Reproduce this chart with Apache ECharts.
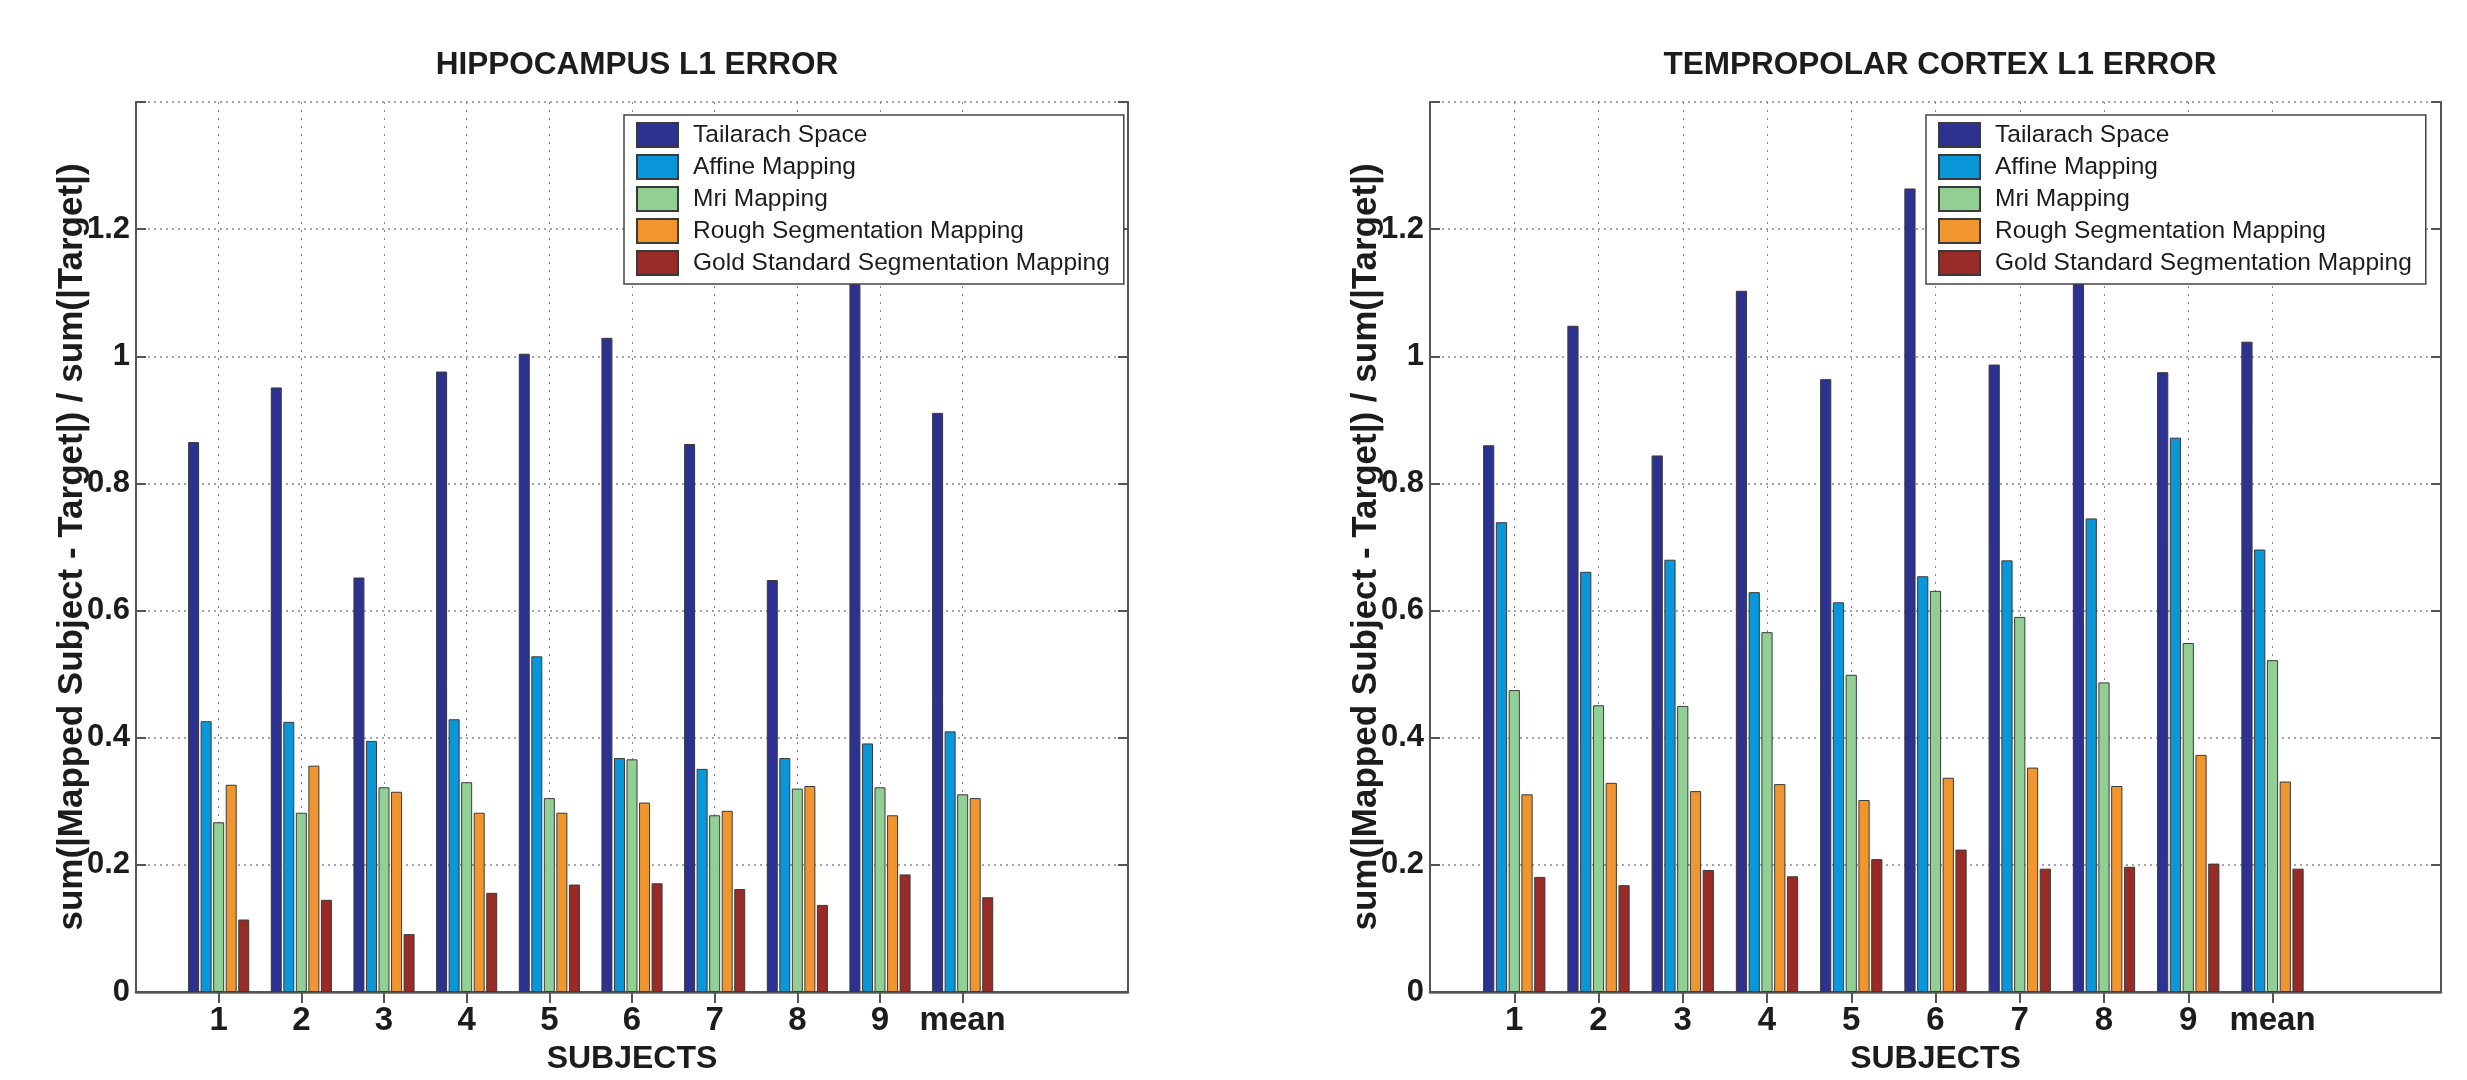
<!DOCTYPE html>
<html>
<head>
<meta charset="utf-8">
<title>L1 error</title>
<script src="https://cdn.jsdelivr.net/npm/echarts@6/dist/echarts.min.js"></script>
<style>
  html,body{margin:0;padding:0;background:#fff}
  #chart{width:2467px;height:1080px}
</style>
</head>
<body>
<div id="chart"></div>
<script>
// categories on the x axis (blank slots pad the axis out to 0..12 like the matlab figure)
const subjects = ['', '1', '2', '3', '4', '5', '6', '7', '8', '9', 'mean', '', ''];
const methodNames = ['Tailarach Space', 'Affine Mapping', 'Mri Mapping', 'Rough Segmentation Mapping', 'Gold Standard Segmentation Mapping'];
const methodColors = ['#2d3190', '#0a97d9', '#92cf95', '#f1952f', '#982b25'];
const yTicks = [0, 0.2, 0.4, 0.6, 0.8, 1, 1.2];

// hippocampus, subjects 1..9 + mean
const hippoTailarach = [0.865, 0.951, 0.652, 0.976, 1.004, 1.029, 0.862, 0.648, 1.21, 0.911];
const hippoAffine    = [0.426, 0.425, 0.395, 0.429, 0.528, 0.368, 0.351, 0.368, 0.391, 0.410];
const hippoMri       = [0.267, 0.282, 0.322, 0.330, 0.305, 0.366, 0.278, 0.320, 0.322, 0.311];
const hippoRough     = [0.326, 0.356, 0.315, 0.282, 0.282, 0.298, 0.285, 0.324, 0.278, 0.305];
const hippoGold      = [0.114, 0.145, 0.091, 0.156, 0.169, 0.171, 0.162, 0.137, 0.185, 0.149];

// tempropolar cortex, subjects 1..9 + mean
const tempTailarach = [0.860, 1.048, 0.844, 1.103, 0.964, 1.264, 0.987, 1.162, 0.975, 1.023];
const tempAffine    = [0.739, 0.661, 0.680, 0.629, 0.613, 0.654, 0.679, 0.745, 0.872, 0.696];
const tempMri       = [0.475, 0.451, 0.450, 0.566, 0.499, 0.631, 0.590, 0.487, 0.549, 0.522];
const tempRough     = [0.311, 0.329, 0.316, 0.327, 0.302, 0.337, 0.353, 0.324, 0.373, 0.331];
const tempGold      = [0.181, 0.168, 0.192, 0.182, 0.209, 0.224, 0.194, 0.197, 0.202, 0.194];

(function(){
  const FONT = '"Liberation Sans", Arial, Helvetica, sans-serif';
  const INK = '#1c1c1c';
  const BOX = '#555';

  // slot 0 is empty, 1..10 hold the values, 11..12 empty
  const pad = (vals)=>[null].concat(vals, [null, null]);
  const onTick = (i)=>i>=1 && i<=10;

  const panels = [
    {title:'HIPPOCAMPUS L1 ERROR', left:136, width:992, center:632, legendLeft:624,
      data:[hippoTailarach, hippoAffine, hippoMri, hippoRough, hippoGold]},
    {title:'TEMPROPOLAR CORTEX L1 ERROR', left:1430, width:1011, center:1935, legendLeft:1926,
      data:[tempTailarach, tempAffine, tempMri, tempRough, tempGold]}
  ];

  const option = {
    animation:false,
    backgroundColor:'#fff',
    title:[], grid:[], xAxis:[], yAxis:[], legend:[], series:[]
  };

  panels.forEach((p, k)=>{
    option.title.push({
      text:p.title, left:p.center, top:44, textAlign:'center',
      textStyle:{fontFamily:FONT, fontSize:31.5, fontWeight:'bold', color:INK}
    });
    option.grid.push({left:p.left, top:102, width:p.width, height:895, containLabel:false, show:false});

    // bottom axis with labels + top axis for the box and inward ticks
    option.xAxis.push({
      gridIndex:k, type:'category', data:subjects, boundaryGap:false, position:'bottom',
      name:'SUBJECTS', nameLocation:'middle', nameGap:51, nameMoveOverlap:false,
      nameTextStyle:{fontFamily:FONT, fontSize:32, fontWeight:'bold', color:INK},
      axisLine:{show:true, lineStyle:{color:'#666', width:2.5}},
      axisTick:{show:false},
      axisLabel:{interval:0, margin:12, fontFamily:FONT, fontSize:33, fontWeight:'bold', color:INK},
      splitLine:{show:true, interval:onTick, lineStyle:{color:'#888', width:1, type:[2,6]}}
    });
    option.xAxis.push({
      gridIndex:k, type:'category', data:subjects, boundaryGap:false, position:'top',
      axisLine:{show:true, lineStyle:{color:BOX, width:2}},
      axisTick:{show:true, inside:true, length:11, interval:onTick, lineStyle:{color:BOX, width:2}},
      axisLabel:{show:false}, splitLine:{show:false}
    });

    const yBase = {
      gridIndex:k, type:'value', min:0, max:1.4, interval:0.2,
      axisLine:{show:true, lineStyle:{color:BOX, width:2}},
      axisTick:{show:true, inside:true, length:10, lineStyle:{color:BOX, width:2}}
    };
    option.yAxis.push(Object.assign({}, yBase, {
      position:'left',
      name:'sum(|Mapped Subject - Target|) / sum(|Target|)',
      nameLocation:'middle', nameGap:46, nameMoveOverlap:false,
      nameTextStyle:{fontFamily:FONT, fontSize:35, fontWeight:'bold', color:INK},
      axisLabel:{margin:6, fontFamily:FONT, fontSize:31, fontWeight:'bold', color:INK,
        formatter:v=>yTicks.includes(+v.toFixed(1)) ? String(+v.toFixed(1)) : ''},
      splitLine:{show:true, lineStyle:{color:'#888', width:1.5, type:[2,4]}}
    }));
    option.yAxis.push(Object.assign({}, yBase, {
      position:'right', axisLabel:{show:false}, splitLine:{show:false}
    }));

    option.legend.push({
      orient:'vertical', left:p.legendLeft, top:115,
      data:methodNames, icon:'rect',
      itemWidth:41, itemHeight:24, itemGap:6,
      padding:[7,14,8,12],
      backgroundColor:'#fff', borderColor:'#444', borderWidth:1.5,
      selectedMode:false,
      textStyle:{fontFamily:FONT, fontSize:24.5, lineHeight:24, color:INK, padding:[0,0,0,10]}
    });

    p.data.forEach((vals, i)=>{
      option.series.push({
        type:'bar', name:methodNames[i],
        xAxisIndex:k*2, yAxisIndex:k*2,
        data:pad(vals),
        barWidth:'13.3%', barGap:'14%',
        itemStyle:{color:methodColors[i], borderColor:'#3a3a3a', borderWidth:1}
      });
    });
  });

  const chart = echarts.init(document.getElementById('chart'), null, {renderer:'canvas'});
  chart.setOption(option);
})();
</script>
</body>
</html>
